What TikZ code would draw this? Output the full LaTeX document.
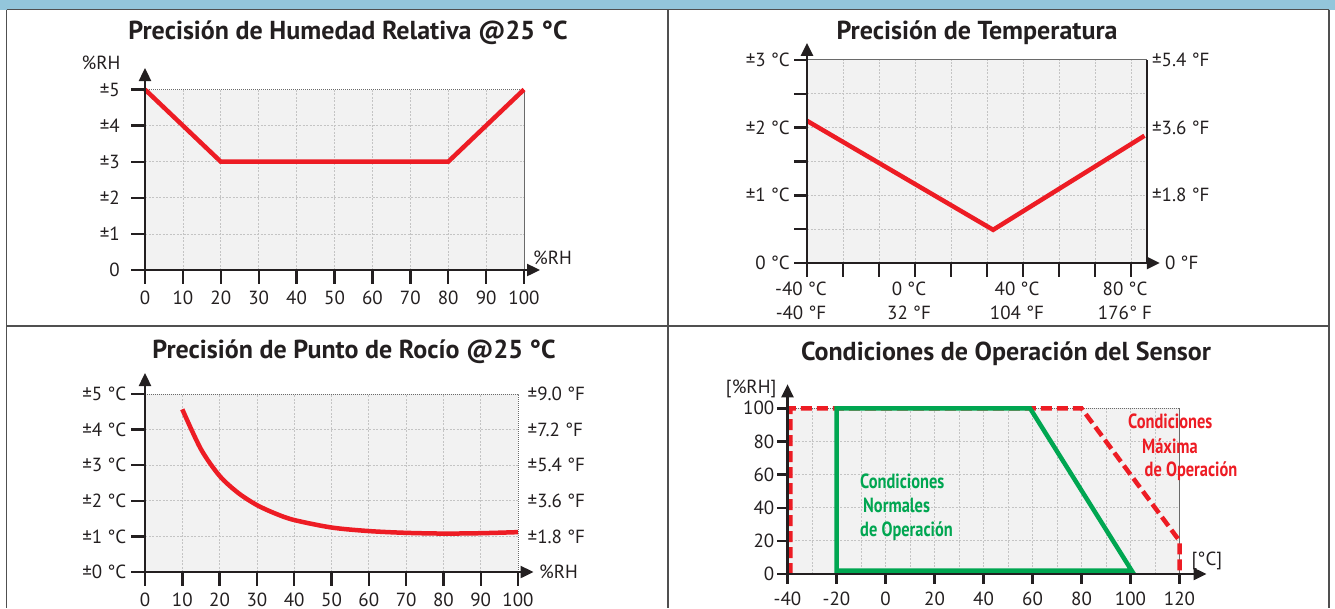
\documentclass[tikz,border=0pt]{standalone}
\usepackage{fontspec}
\setmainfont{PT Sans}
\newfontfamily\condbf[FakeStretch=0.8]{PT Sans}
\usetikzlibrary{arrows.meta}
\definecolor{inkc}{HTML}{231F20}
\definecolor{bandc}{HTML}{93C6DB}
\definecolor{framec}{HTML}{505050}
\definecolor{plotbg}{HTML}{F2F2F2}
\definecolor{gridc}{HTML}{C4C4C4}
\definecolor{edgec}{HTML}{6A6A6A}
\definecolor{redc}{HTML}{ED1C24}
\definecolor{greenc}{HTML}{00A651}
\begin{document}
\begin{tikzpicture}[x=1pt,y=-1pt,
  ttl/.style={font=\fontsize{26}{28}\selectfont\bfseries, text=inkc, inner sep=0pt, anchor=base},
  lbl/.style={font=\fontsize{19}{21}\selectfont, text=inkc, inner sep=0pt},
  ax/.style={line width=2.4pt, draw=inkc},
  axarrow/.style={ax, -{Triangle[length=13pt,width=12pt]}},
  grd/.style={draw=gridc, line width=0.8pt, dash pattern=on 2pt off 1.5pt},
  edge/.style={draw=edgec, line width=1pt},
  dotedge/.style={draw=edgec, line width=1pt, dash pattern=on 1pt off 1pt},
  crv/.style={draw=redc, line width=4.5pt},
  frm/.style={draw=framec, line width=1.6pt},
  opred/.style={draw=redc, line width=4.5pt, dash pattern=on 11pt off 5pt},
  opgreen/.style={draw=greenc, line width=4.5pt, line join=miter},
  note/.style={font=\condbf\bfseries\fontsize{20.5}{22}\selectfont, inner sep=0pt, anchor=base west}
]
\useasboundingbox (0,0) rectangle (1335,608);
% band and frame
\fill[bandc] (0,0) rectangle (1335,9.5);
\draw[frm] (6.5,9.5) -- (1329,9.5);
\draw[frm] (6.5,326) -- (1329,326);
\foreach \c in {6.5,668,1329}
  \draw[frm] (\c,9.5) -- (\c,608);

% titles
\node[ttl] (ttlrh) at (348,39.5) {Precisión de Humedad Relativa @25 °C};
\node[ttl] (ttltemp) at (977,39.5) {Precisión de Temperatura};
\node[ttl] (ttldew) at (354,358.5) {Precisión de Punto de Rocío @25 °C};
\node[ttl] (ttlop) at (1006,360) {Condiciones de Operación del Sensor};

% relative humidity
\begin{scope}[shift={(145,270)},x=3.79pt,y=36.1pt]
  \fill[plotbg] (0,0) rectangle (100,5);
  \foreach \i in {10,20,...,90}
    \draw[grd] (\i,0) -- (\i,5);
  \foreach \j in {1,...,4}
    \draw[grd] (0,\j) -- (100,\j);
  \draw[dotedge] (0,5) -- (100,5);
  \draw[edge] (100,0) -- (100,5);
  \draw[crv] (0,5) -- (20,3) -- (80,3) -- (100,5);
  \foreach \i in {0,10,...,100} {
    \draw[ax] (\i,0) -- ++(0,-14pt);
    \node[lbl,anchor=base] (rhx\i) at ([yshift=-34pt]\i,0) {\i};
  }
  \foreach \j/\t in {0/0,1/±1,2/±2,3/±3,4/±4,5/±5} {
    \draw[ax] (0,\j) -- ++(-14pt,0);
    \node[lbl,anchor=base east] (rhy\j) at ([xshift=-25pt,yshift=-6.6pt]0,\j) {\t};
  }
  \draw[axarrow] (0,0) -- ([xshift=16pt]100,0);
  \draw[axarrow] (0,0) -- ([yshift=21.5pt]0,5);
  \node[lbl,anchor=base] (rhyname) at ([xshift=-44pt,yshift=20pt]0,5) {\%RH};
  \node[lbl,anchor=base west] (rhxname) at ([xshift=9pt,yshift=6pt]100,0) {\%RH};
\end{scope}

% temperature
\begin{scope}[shift={(807,263)},x=36pt,y=67.7pt]
  \fill[plotbg] (0,0) rectangle (9.44,3);
  \foreach \i in {1,...,9}
    \draw[grd] (\i,0) -- (\i,3);
  \foreach \j in {0.5,1,...,2.5}
    \draw[grd] (0,\j) -- (9.44,\j);
  \draw[edge] (0,3) -- (9.44,3);
  \draw[ax,line width=1.8pt] (9.44,0) -- (9.44,3);
  \draw[crv] (0,2.1) -- (5.17,0.49) -- (9.375,1.88);
  \foreach \i in {0,...,9}
    \draw[ax] (\i,0) -- ++(0,-14pt);
  \foreach \j in {0,0.5,...,3}
    \draw[ax] (0,\j) -- ++(-13pt,0);
  \foreach \j/\c/\f in {1/±1 °C/±1.8 °F,2/±2 °C/±3.6 °F,3/±3 °C/±5.4 °F} {
    \node[lbl,anchor=base east] (tcy\j) at ([xshift=-17pt,yshift=-6.6pt]0,\j) {\c};
    \node[lbl,anchor=base west] (tfy\j) at ([xshift=5pt,yshift=-6.6pt]9.44,\j) {\f};
  }
  \node[lbl,anchor=base east] (tcy0) at ([xshift=-17pt,yshift=-6.6pt]0,0) {0 °C};
  \node[lbl,anchor=base west] (tfy0) at ([xshift=18pt,yshift=-6.6pt]9.44,0) {0 °F};
  \foreach \i/\c/\f in {0/-40 °C/-40 °F,3/0 °C/32 °F,6/40 °C/104 °F,9/80 °C/176° F} {
    \node[lbl,anchor=base] (tcx\i) at ([xshift=-6pt,yshift=-32pt]\i,0) {\c};
    \node[lbl,anchor=base] (tfx\i) at ([xshift=-6pt,yshift=-56pt]\i,0) {\f};
  }
  \draw[axarrow] (0,0) -- ([xshift=13pt]9.44,0);
  \draw[axarrow] (0,0) -- ([yshift=17pt]0,3);
\end{scope}

% dew point
\begin{scope}[shift={(145,572)},x=3.73pt,y=35.6pt]
  \fill[plotbg] (0,0) rectangle (100,5);
  \foreach \i in {10,20,...,90}
    \draw[grd] (\i,0) -- (\i,5);
  \foreach \j in {1,...,4}
    \draw[grd] (0,\j) -- (100,\j);
  \draw[dotedge] (0,5) -- (100,5) -- (100,0);
  \draw[crv] plot[smooth] coordinates {(10,4.57) (15,3.45) (20,2.7) (25,2.22)
    (30,1.88) (35,1.64) (40,1.46) (50,1.25) (60,1.15) (70,1.1) (80,1.08) (90,1.09) (100,1.12)};
  \foreach \i in {0,10,...,100} {
    \draw[ax] (\i,0) -- ++(0,-14pt);
    \node[lbl,anchor=base] (dpx\i) at ([yshift=-34pt]\i,0) {\i};
  }
  \foreach \j/\c/\f in {1/±1 °C/±1.8 °F,2/±2 °C/±3.6 °F,3/±3 °C/±5.4 °F,4/±4 °C/±7.2 °F,5/±5 °C/±9.0 °F} {
    \draw[ax] (0,\j) -- ++(-14pt,0);
    \node[lbl,anchor=base east] (dpy\j) at ([xshift=-18.5pt,yshift=-6.6pt]0,\j) {\c};
    \node[lbl,anchor=base west] (dfy\j) at ([xshift=9.5pt,yshift=-6.6pt]100,\j) {\f};
  }
  \draw[ax] (0,0) -- ++(-14pt,0);
  \node[lbl,anchor=base east] (dpy0) at ([xshift=-18.5pt,yshift=-6.6pt]0,0) {±0 °C};
  \node[lbl,anchor=base west] (dpxname) at ([xshift=21pt,yshift=-6.6pt]100,0) {\%RH};
  \draw[axarrow] (0,0) -- ([xshift=15.5pt]100,0);
  \draw[axarrow] (0,0) -- ([yshift=21pt]0,5);
\end{scope}

% operating conditions
\begin{scope}[shift={(885.5,574)},x=2.45pt,y=1.657pt]
  \fill[plotbg] (-40,0) rectangle (120,100);
  \foreach \i in {-30,-20,...,110}
    \draw[grd] (\i,0) -- (\i,100);
  \foreach \j in {20,40,60,80}
    \draw[grd] (-40,\j) -- (120,\j);
  \draw[dotedge] (-40,100) -- (120,100);
  \draw[edge] (120,100) -- (120,0);
  \draw[opred] (-38.8,0) -- (-38.8,100) -- (80,100) -- (120,20) -- (120,0);
  \draw[opgreen] (-20,2) -- (-20,100) -- (59,100) -- (100.5,2) -- cycle;
  \foreach \i in {-40,-20,...,120} {
    \draw[ax] (\i,0) -- ++(0,-10pt);
    \node[lbl,anchor=base] (opx\i) at ([yshift=-31pt]\i,0) {\i};
  }
  \foreach \j in {0,20,...,100} {
    \draw[ax] (-40,\j) -- ++(-11pt,0);
    \node[lbl,anchor=base east] (opy\j) at ([xshift=-13pt,yshift=-6.6pt]-40,\j) {\j};
  }
  \draw[axarrow] (-40,0) -- ([xshift=27pt]120,0);
  \draw[axarrow] (-40,0) -- ([yshift=24pt]-40,100);
  \node[lbl,anchor=base east] (opyname) at ([xshift=-11pt,yshift=15pt]-40,100) {[\%RH]};
  \node[lbl,anchor=base west] (opxname) at ([xshift=12pt,yshift=9pt]120,0) {[°C]};
\end{scope}
\node[note,text=greenc] (normal1) at (860,488) {Condiciones};
\node[note,text=greenc] (normal2) at (863,512) {Normales};
\node[note,text=greenc] (normal3) at (860,536) {de Operación};
\node[note,text=redc] (max1) at (1128,428) {Condiciones};
\node[note,text=redc] (max2) at (1142,453) {Máxima};
\node[note,text=redc] (max3) at (1144.5,476.5) {de Operación};
\end{tikzpicture}
\end{document}
